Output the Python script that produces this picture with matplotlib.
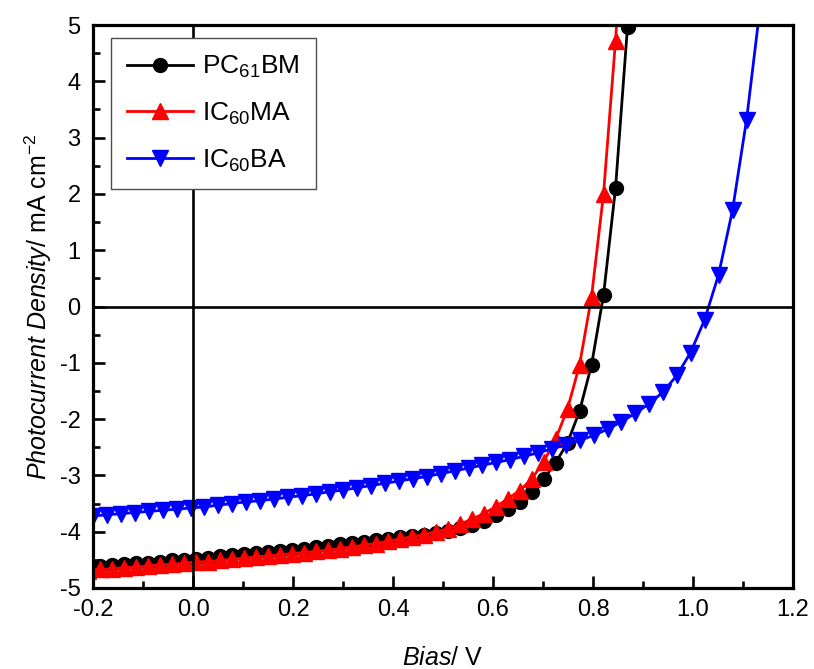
import matplotlib
matplotlib.use("Agg")
import matplotlib.pyplot as plt

plt.rcParams['font.family'] = ['Liberation Sans', 'DejaVu Sans']
plt.rcParams['mathtext.fontset'] = 'custom'
plt.rcParams['mathtext.rm'] = 'Liberation Sans'
plt.rcParams['mathtext.it'] = 'Liberation Sans:italic'
plt.rcParams['axes.unicode_minus'] = False

# bias sweep for PC61BM / IC60MA (V)
bias_a = [-0.211, -0.187, -0.163, -0.139, -0.115, -0.091, -0.067, -0.043, -0.019, 0.005,
          0.029, 0.053, 0.077, 0.101, 0.125, 0.149, 0.173, 0.197, 0.221, 0.245,
          0.269, 0.293, 0.317, 0.341, 0.365, 0.389, 0.413, 0.437, 0.461, 0.485,
          0.509, 0.533, 0.557, 0.581, 0.605, 0.629, 0.653, 0.677, 0.701, 0.725,
          0.749, 0.773, 0.797, 0.821, 0.845, 0.869, 0.893]

pcbm = [-4.63, -4.61, -4.60, -4.58, -4.56, -4.55, -4.53, -4.51, -4.50, -4.48,
        -4.46, -4.44, -4.42, -4.40, -4.38, -4.36, -4.34, -4.32, -4.30, -4.27,
        -4.25, -4.22, -4.20, -4.18, -4.15, -4.13, -4.10, -4.08, -4.06, -4.03,
        -3.99, -3.94, -3.88, -3.81, -3.71, -3.59, -3.47, -3.29, -3.07, -2.78,
        -2.42, -1.86, -1.04, 0.20, 2.10, 4.97, 8.0]

icma = [-4.69, -4.67, -4.66, -4.64, -4.63, -4.61, -4.59, -4.58, -4.56, -4.54,
        -4.53, -4.51, -4.49, -4.47, -4.45, -4.43, -4.41, -4.39, -4.37, -4.35,
        -4.33, -4.30, -4.27, -4.24, -4.21, -4.17, -4.13, -4.09, -4.05, -4.00,
        -3.95, -3.87, -3.78, -3.68, -3.56, -3.42, -3.27, -3.07, -2.76, -2.36,
        -1.82, -1.04, 0.17, 2.00, 4.72, 8.0, 12.0]

# bias sweep for IC60BA (V)
bias_b = [-0.200, -0.172, -0.144, -0.117, -0.089, -0.061, -0.033, -0.005, 0.022, 0.050,
          0.078, 0.106, 0.134, 0.161, 0.189, 0.217, 0.245, 0.273, 0.300, 0.328,
          0.356, 0.384, 0.412, 0.439, 0.467, 0.495, 0.523, 0.551, 0.578, 0.606,
          0.634, 0.662, 0.690, 0.717, 0.745, 0.773, 0.801, 0.829, 0.856, 0.884,
          0.912, 0.940, 0.968, 0.995, 1.023, 1.051, 1.079, 1.107, 1.134]

icba = [-3.72, -3.70, -3.68, -3.66, -3.64, -3.62, -3.60, -3.58, -3.56, -3.53,
        -3.50, -3.47, -3.45, -3.42, -3.39, -3.36, -3.33, -3.29, -3.26, -3.22,
        -3.18, -3.14, -3.10, -3.06, -3.02, -2.97, -2.92, -2.87, -2.82, -2.77,
        -2.72, -2.66, -2.60, -2.53, -2.46, -2.38, -2.29, -2.18, -2.05, -1.90,
        -1.73, -1.52, -1.22, -0.82, -0.24, 0.56, 1.71, 3.31, 5.30]

fig = plt.figure(figsize=(8.14, 6.69), dpi=100)
ax = fig.add_axes([0.1143, 0.1211, 0.8599, 0.8415])

ax.plot(bias_a, pcbm, color='black', lw=2.0, marker='o', ms=10,
        label=r'PC$_{61}$BM', zorder=2)
ax.plot(bias_a, icma, color='red', lw=2.0, marker='^', ms=12,
        label=r'IC$_{60}$MA', zorder=2.1)
ax.plot(bias_b, icba, color='blue', lw=2.0, marker='v', ms=12,
        label=r'IC$_{60}$BA', zorder=2.2)

ax.axhline(0, color='black', lw=1.9, zorder=3)
ax.axvline(0, color='black', lw=1.9, zorder=3)

ax.set_xlim(-0.2, 1.2)
ax.set_ylim(-5, 5)
ax.set_xticks([-0.2, 0.0, 0.2, 0.4, 0.6, 0.8, 1.0, 1.2])
ax.set_xticks([-0.1, 0.1, 0.3, 0.5, 0.7, 0.9, 1.1], minor=True)
ax.set_yticks(range(-5, 6))
ax.set_yticks([-4.5, -3.5, -2.5, -1.5, -0.5, 0.5, 1.5, 2.5, 3.5, 4.5], minor=True)
ax.set_xticklabels(['-0.2', '0.0', '0.2', '0.4', '0.6', '0.8', '1.0', '1.2'])

ax.tick_params(which='both', direction='in', width=1.9, labelsize=17,
               top=False, right=False)
ax.tick_params(which='major', length=8.5)
ax.tick_params(which='minor', length=5)
ax.tick_params(axis='x', which='major', pad=8)
ax.tick_params(axis='y', which='major', pad=9)
for s in ax.spines.values():
    s.set_linewidth(2.3)

ax.set_xlabel(r'$\mathit{Bias}$/ V', fontsize=18, labelpad=18)
ax.set_ylabel(r'$\mathit{Photocurrent\ Density}$/ mA cm$^{-2}$', fontsize=18, labelpad=4)

leg = ax.legend(loc='upper left', bbox_to_anchor=(0.026, 0.977), fontsize=19,
                frameon=True, fancybox=False, edgecolor='0.3', framealpha=1,
                borderaxespad=0, handlelength=2.5, labelspacing=0.78,
                borderpad=0.6, handletextpad=0.35)
leg.get_frame().set_linewidth(1.0)

plt.savefig('out.png', dpi=100)
